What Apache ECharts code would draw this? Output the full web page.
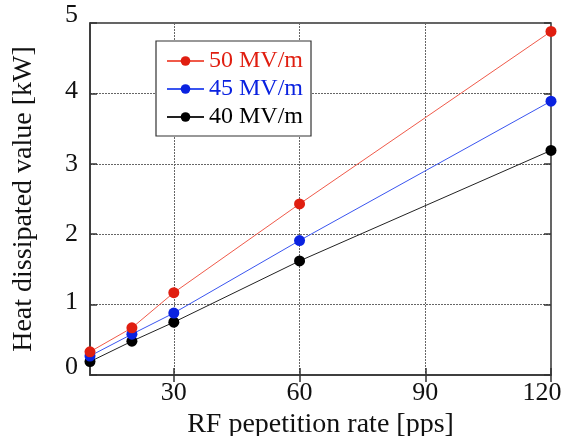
<!DOCTYPE html>
<html>
<head>
<meta charset="utf-8">
<script src="https://cdn.jsdelivr.net/npm/echarts@6/dist/echarts.min.js"></script>
<style>
html,body{margin:0;padding:0;background:#fff;}
#chart{width:569px;height:436px;}
</style>
</head>
<body>
<div id="chart"></div>
<script>
var rates = [10, 20, 30, 60, 120];
var heat50 = [0.33, 0.67, 1.17, 2.43, 4.88];
var heat45 = [0.27, 0.58, 0.88, 1.91, 3.89];
var heat40 = [0.19, 0.48, 0.75, 1.62, 3.19];
var seriesNames = ['50 MV/m', '45 MV/m', '40 MV/m'];
var xTicks = [30, 60, 90, 120];
var xTitle = 'RF pepetition rate [pps]';
var yTitle = 'Heat dissipated value [kW]';

var FONT = "'Liberation Serif','Times New Roman',serif";
var colors = ['#e01e10', '#0a22e0', '#000000'];
var lineColors = ['#f05a4a', '#3a55f0', '#222222'];
var allData = [heat50, heat45, heat40];

function pairs(ys) { return rates.map(function (x, i) { return [x, ys[i]]; }); }

var chart = echarts.init(document.getElementById('chart'));
var series = seriesNames.map(function (n, k) {
  return {
    name: n, type: 'line', xAxisIndex: 0, yAxisIndex: 0,
    data: pairs(allData[k]),
    symbol: 'circle', symbolSize: 11,
    itemStyle: { color: colors[k] },
    lineStyle: { color: lineColors[k], width: 1 },
    z: 10 - k
  };
});

chart.setOption({
  animation: false,
  backgroundColor: '#fff',
  grid: { left: 90, right: 18, top: 23, bottom: 61, outerBoundsMode: 'none', containLabel: false, show: true, borderColor: '#333', borderWidth: 1.5, backgroundColor: 'transparent' },
  legend: {
    orient: 'vertical', left: 156, top: 41,
    padding: [8, 8, 7, 10], itemGap: 4,
    borderColor: '#333', borderWidth: 1.2, backgroundColor: '#fff',
    itemWidth: 37, itemHeight: 12,
    textStyle: { fontFamily: FONT, fontSize: 24, padding: [0, 0, 0, 0] },
    data: seriesNames.map(function (n, k) { return { name: n, textStyle: { color: colors[k] } }; })
  },
  xAxis: [{
    type: 'value', min: 10, max: 120, position: 'bottom',
    name: xTitle, nameLocation: 'middle', nameGap: 22,
    nameTextStyle: { fontFamily: FONT, fontSize: 28, color: '#111' },
    axisLine: { show: true, lineStyle: { color: '#333', width: 1.5 } },
    axisTick: { show: true, inside: true, length: 7, customValues: xTicks, lineStyle: { color: '#333', width: 1.5 } },
    axisLabel: {
      customValues: xTicks, margin: 5, fontFamily: FONT, fontSize: 26, color: '#111',
      formatter: function (v) { return v === 120 ? '{r|120}' : String(v); },
      rich: { r: { fontFamily: FONT, fontSize: 26, color: '#111', padding: [0, 18, 0, 0] } }
    },
    splitLine: { show: true, lineStyle: { color: '#666', type: [2, 1], width: 1 } }
  }, {
    type: 'value', min: 10, max: 120, position: 'top',
    axisLine: { show: false },
    axisTick: { show: true, inside: true, length: 7, customValues: xTicks, lineStyle: { color: '#333', width: 1.5 } },
    axisLabel: { show: false, customValues: xTicks },
    splitLine: { show: false }
  }],
  yAxis: [{
    type: 'value', min: 0, max: 5, interval: 1, position: 'left',
    name: yTitle, nameLocation: 'middle', nameGap: 52,
    nameTextStyle: { fontFamily: FONT, fontSize: 28, color: '#111' },
    axisLine: { show: true, lineStyle: { color: '#333', width: 1.5 } },
    axisTick: { show: true, inside: true, length: 7, lineStyle: { color: '#333', width: 1.5 } },
    axisLabel: {
      margin: 12, fontFamily: FONT, fontSize: 26, color: '#111',
      formatter: function (v) {
        if (v === 0 || v === 5) return '{e|' + v + '}';
        if (v === 1 || v === 4) return '{s|' + v + '}';
        return '{m|' + v + '}';
      },
      rich: {
        e: { fontFamily: FONT, fontSize: 26, color: '#111', padding: [0, 0, 16, 0] },
        s: { fontFamily: FONT, fontSize: 26, color: '#111', padding: [0, 0, 4, 0] },
        m: { fontFamily: FONT, fontSize: 26, color: '#111' }
      }
    },
    splitLine: { show: true, lineStyle: { color: '#666', type: [2, 1], width: 1 } }
  }, {
    type: 'value', min: 0, max: 5, interval: 1, position: 'right',
    axisLine: { show: false },
    axisTick: { show: true, inside: true, length: 7, lineStyle: { color: '#333', width: 1.5 } },
    axisLabel: { show: false },
    splitLine: { show: false }
  }],
  series: series
});
</script>
</body>
</html>
